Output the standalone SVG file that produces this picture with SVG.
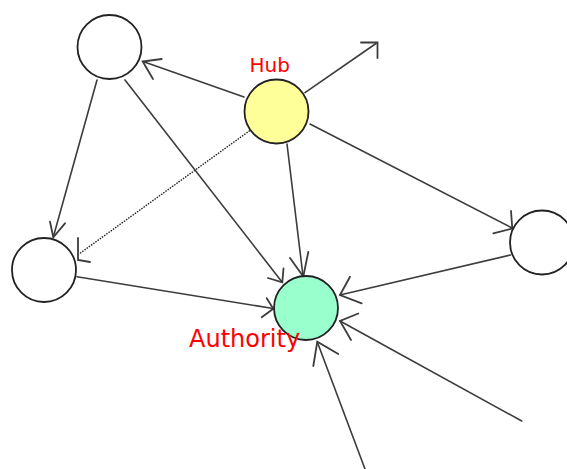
<svg xmlns="http://www.w3.org/2000/svg" width="567" height="469" viewBox="0 0 567 469">
  <style>
    .edge { fill: none; stroke: #3c3c3c; stroke-width: 1.6; stroke-linecap: round; }
    .dotted { stroke-dasharray: 1.5 1.2; stroke-linecap: butt; stroke: #222; stroke-width: 1.4; }
    .head { fill: none; stroke: #3c3c3c; stroke-width: 1.8; stroke-linejoin: miter; stroke-linecap: round; }
    .node { stroke: #222; stroke-width: 1.8; }
    .plain { fill: #ffffff; }
    .hub { fill: #ffff99; }
    .auth { fill: #99ffcc; }
    .label { font-family: "DejaVu Sans", Verdana, sans-serif; fill: #ff0000; }
  </style>

  <!-- connectors: each edge line plus its open arrowhead -->
  <g id="edges">
    <!-- hub -> top-left -->
    <line class="edge" x1="244" y1="97" x2="143" y2="61.5"/>
    <polyline class="head" points="161.7,59 142.7,61.5 153,79"/>
    <!-- hub -> outward -->
    <line class="edge" x1="305" y1="92.7" x2="376" y2="43.5"/>
    <polyline class="head" points="361,42.5 377.5,42.5 377.5,58"/>
    <!-- hub -> right -->
    <line class="edge" x1="310" y1="124" x2="512" y2="228"/>
    <polyline class="head" points="511,211 512.3,228.5 493.3,233.3"/>
    <!-- hub -> authority -->
    <line class="edge" x1="287" y1="144" x2="303" y2="276"/>
    <polyline class="head" points="290,258 303.3,276.5 308.3,252"/>
    <!-- hub -> left (dotted) -->
    <line class="edge dotted" x1="252" y1="129" x2="79" y2="254"/>
    <polyline class="head" points="78,238 78,260 90,262"/>
    <!-- top-left -> left -->
    <line class="edge" x1="97" y1="80" x2="53.3" y2="237"/>
    <polyline class="head" points="50,221.7 53.3,237.3 65,223.3"/>
    <!-- top-left -> authority -->
    <line class="edge" x1="125" y1="80" x2="282" y2="282"/>
    <polyline class="head" points="268,278 282.3,282.3 283.5,268.5"/>
    <!-- left -> authority -->
    <line class="edge" x1="77" y1="276.7" x2="273" y2="308.5"/>
    <polyline class="head" points="266.7,298.3 273.3,308.7 261.7,317.3"/>
    <!-- right -> authority -->
    <line class="edge" x1="510.5" y1="255" x2="340" y2="295"/>
    <polyline class="head" points="350,276.7 340,295 361.7,303.3"/>
    <!-- incoming from lower right -->
    <line class="edge" x1="521.7" y1="421" x2="340" y2="321"/>
    <polyline class="head" points="358.3,313.5 340,321 351,340"/>
    <!-- incoming from below -->
    <line class="edge" x1="365" y1="469" x2="317.3" y2="342"/>
    <polyline class="head" points="313.3,366 317.3,341.7 338.3,354"/>
  </g>

  <g id="node-topleft">
    <circle class="node plain" cx="109.5" cy="47" r="32"/>
  </g>
  <g id="node-left">
    <circle class="node plain" cx="44" cy="270" r="32"/>
  </g>
  <g id="node-right">
    <circle class="node plain" cx="542" cy="242.5" r="32"/>
  </g>
  <g id="node-hub">
    <circle class="node hub" cx="276.5" cy="111.5" r="32"/>
    <text class="label" x="249.5" y="72" font-size="20">Hub</text>
  </g>
  <g id="node-authority">
    <circle class="node auth" cx="306" cy="308" r="32"/>
    <text class="label" x="189" y="347" font-size="24">Authority</text>
  </g>
</svg>
